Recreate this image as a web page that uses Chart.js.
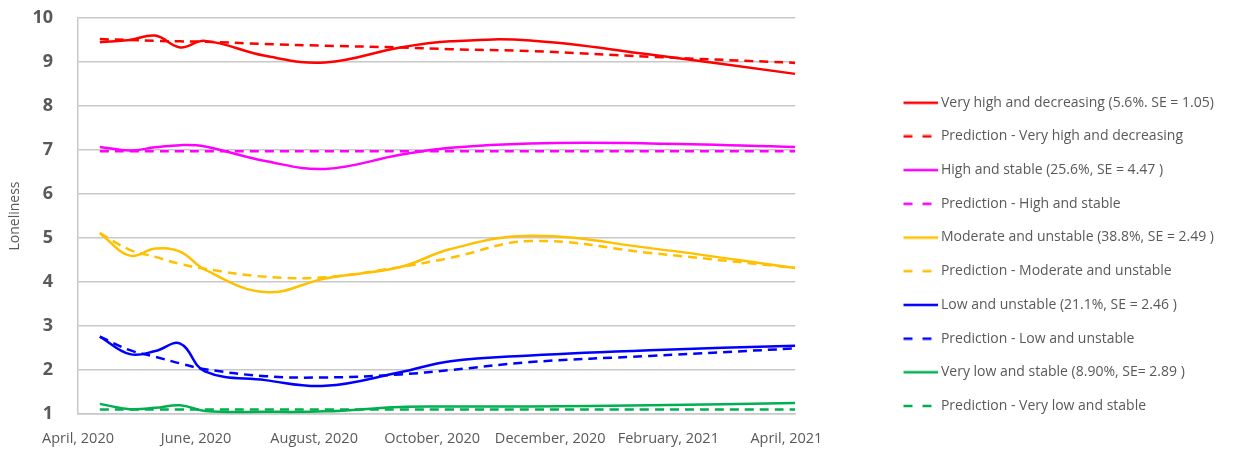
<!DOCTYPE html>
<html>
<head>
<meta charset="utf-8">
<script src="https://cdn.jsdelivr.net/npm/chart.js@4.4.0/dist/chart.umd.min.js"></script>
<style>
  html, body { margin: 0; padding: 0; background: #fff; }
</style>
</head>
<body>
<canvas id="lonelinessChart" width="1234" height="451"></canvas>
<script>
// months since April 2020 (x positions of the measurements)
const surveyMonths = [0.37, 0.88, 1.31, 1.73, 2.15, 3.17, 4.19, 5.46, 6.31, 7.66, 9.69, 12.15];
const tickMonths = [0, 2, 4, 6, 8, 10, 12];
const tickLabels = ['April, 2020', 'June, 2020', 'August, 2020', 'October, 2020', 'December, 2020', 'February, 2021', 'April, 2021'];
const yTicks = [1, 2, 3, 4, 5, 6, 7, 8, 9, 10];

// observed trajectories
const veryHighDecreasing = [9.45, 9.50, 9.60, 9.33, 9.48, 9.14, 8.99, 9.33, 9.47, 9.49, 9.17, 8.73];
const highStable         = [7.07, 6.99, 7.06, 7.11, 7.08, 6.75, 6.57, 6.89, 7.05, 7.15, 7.15, 7.07];
const moderateUnstable   = [5.11, 4.60, 4.76, 4.69, 4.28, 3.77, 4.08, 4.34, 4.75, 5.05, 4.77, 4.32];
const lowUnstable        = [2.76, 2.36, 2.43, 2.60, 1.97, 1.77, 1.64, 1.95, 2.20, 2.33, 2.45, 2.55];
const veryLowStable      = [1.23, 1.11, 1.14, 1.20, 1.07, 1.05, 1.06, 1.16, 1.17, 1.17, 1.20, 1.25];

// model predictions
const predVeryHigh = [9.52, 9.50, 9.48, 9.47, 9.46, 9.41, 9.37, 9.33, 9.29, 9.25, 9.12, 8.98];
const predHigh     = [6.97, 6.97, 6.97, 6.97, 6.97, 6.97, 6.97, 6.97, 6.97, 6.97, 6.97, 6.97];
const predModerate = [5.11, 4.73, 4.57, 4.41, 4.30, 4.12, 4.11, 4.34, 4.55, 4.93, 4.66, 4.32];
const predLow      = [2.76, 2.45, 2.30, 2.15, 2.02, 1.86, 1.83, 1.90, 2.00, 2.18, 2.32, 2.49];
const predVeryLow  = [1.10, 1.10, 1.10, 1.10, 1.10, 1.10, 1.10, 1.10, 1.10, 1.10, 1.10, 1.10];

const FONT = '"Open Sans", "Noto Sans", sans-serif';
const TEXT = '#595959';
const GRID = '#c8c8c8';

// small canvas used as legend symbol (solid or dashed line)
function legendLine(color, dashed) {
    const c = document.createElement('canvas');
    c.width = 36;
    c.height = 4;
    const g = c.getContext('2d');
    g.strokeStyle = color;
    g.lineWidth = 2.5;
    g.beginPath();
    if (dashed) {
        g.moveTo(1, 2); g.lineTo(10, 2);
        g.moveTo(20, 2); g.lineTo(29, 2);
    } else {
        g.moveTo(1, 2); g.lineTo(36, 2);
    }
    g.stroke();
    return c;
}

function series(label, values, color, dashed) {
    return {
        label: label,
        data: values.map((v, i) => ({ x: surveyMonths[i], y: v })),
        borderColor: color,
        backgroundColor: color,
        borderWidth: 2.5,
        borderDash: dashed ? [9, 6] : [],
        tension: 0.4,
        fill: false,
        pointRadius: 0,
        pointHoverRadius: 0,
        pointStyle: legendLine(color, dashed)
    };
}

const datasets = [
    series('Very high and decreasing (5.6%. SE = 1.05)', veryHighDecreasing, '#ff0000', false),
    series('Prediction - Very high and decreasing', predVeryHigh, '#ff0000', true),
    series('High and stable (25.6%, SE = 4.47 )', highStable, '#ff00ff', false),
    series('Prediction - High and stable', predHigh, '#ff00ff', true),
    series('Moderate and unstable (38.8%, SE = 2.49 )', moderateUnstable, '#ffc000', false),
    series('Prediction - Moderate and unstable', predModerate, '#ffc000', true),
    series('Low and unstable (21.1%, SE = 2.46 )', lowUnstable, '#0000ff', false),
    series('Prediction - Low and unstable', predLow, '#0000ff', true),
    series('Very low and stable (8.90%, SE= 2.89 )', veryLowStable, '#00b050', false),
    series('Prediction - Very low and stable', predVeryLow, '#00b050', true)
];

const chart = new Chart(document.getElementById('lonelinessChart'), {
    type: 'line',
    data: { datasets: datasets },
    options: {
        responsive: false,
        animation: false,
        layout: { padding: { top: 0, bottom: 4, left: 0, right: 10 } },
        plugins: {
            tooltip: { enabled: false },
            legend: {
                position: 'right',
                align: 'start',
                maxWidth: 400,
                title: {
                    display: true,
                    text: ' ',
                    font: { size: 10 },
                    padding: { top: 0, bottom: 64 }
                },
                labels: {
                    usePointStyle: true,
                    pointStyleWidth: 27,
                    padding: 19.7,
                    color: TEXT,
                    font: { family: FONT, size: 14 }
                }
            }
        },
        scales: {
            x: {
                type: 'linear',
                min: 0,
                max: 12.15,
                afterBuildTicks: (scale) => {
                    scale.ticks = tickMonths.map(v => ({ value: v }));
                },
                afterFit: (scale) => {
                    scale.height = 33;
                    scale.paddingLeft = 0;
                    scale.paddingRight = 0;
                },
                ticks: {
                    autoSkip: false,
                    maxRotation: 0,
                    padding: 16,
                    color: TEXT,
                    font: { family: FONT, size: 14.5 },
                    callback: (value) => tickLabels[tickMonths.indexOf(value)]
                },
                grid: { display: false, drawTicks: false },
                border: { display: true, color: GRID, width: 1.5 }
            },
            y: {
                min: 1,
                max: 10,
                afterBuildTicks: (scale) => {
                    scale.ticks = yTicks.map(v => ({ value: v }));
                },
                afterFit: (scale) => {
                    scale.width = 78;
                    scale.paddingTop = 18;
                    scale.paddingBottom = 0;
                },
                title: {
                    display: true,
                    text: 'Loneliness',
                    color: TEXT,
                    font: { family: FONT, size: 14 },
                    padding: { top: 7, bottom: 0 }
                },
                ticks: {
                    padding: 25,
                    color: TEXT,
                    font: { family: FONT, size: 18, weight: 'bold' }
                },
                grid: { color: GRID, lineWidth: 1.5, drawTicks: false },
                border: { display: true, color: GRID, width: 1.5 }
            },
            gap: {
                type: 'linear',
                position: 'right',
                display: true,
                afterFit: (scale) => { scale.width = 92; },
                ticks: { display: false },
                grid: { display: false, drawTicks: false },
                border: { display: false }
            }
        }
    }
});
</script>
</body>
</html>
